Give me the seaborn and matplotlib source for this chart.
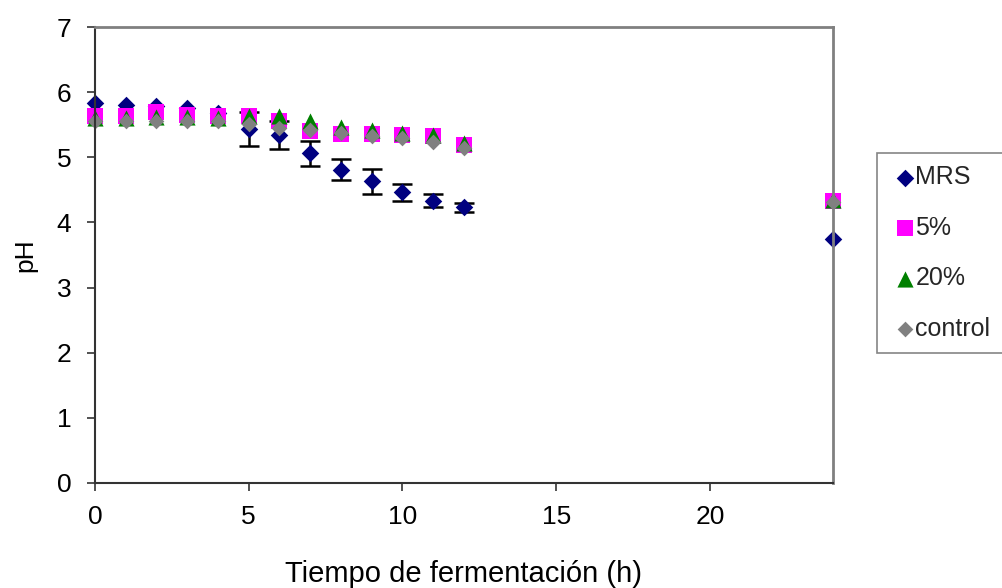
import numpy as np
import pandas as pd
import matplotlib
matplotlib.use("Agg")
import matplotlib.pyplot as plt
import seaborn as sns

time = [0, 1, 2, 3, 4, 5, 6, 7, 8, 9, 10, 11, 12, 24]
ph_mrs = [5.84, 5.81, 5.79, 5.76, 5.68, 5.43, 5.34, 5.06, 4.81, 4.63, 4.46, 4.33, 4.23, 3.75]
sd_mrs = [np.nan, np.nan, np.nan, np.nan, np.nan, 0.26, 0.22, 0.19, 0.16, 0.19, 0.13, 0.10, 0.07, np.nan]
ph_5 = [5.63, 5.63, 5.70, 5.65, 5.64, 5.64, 5.56, 5.41, 5.36, 5.36, 5.35, 5.32, 5.19, 4.33]
ph_20 = [5.60, 5.60, 5.62, 5.62, 5.60, 5.63, 5.63, 5.55, 5.47, 5.42, 5.38, 5.35, 5.22, 4.35]
ph_ctrl = [5.55, 5.55, 5.55, 5.55, 5.55, 5.51, 5.45, 5.42, 5.38, 5.33, 5.30, 5.24, 5.15, 4.32]

series = ["MRS", "5%", "20%", "control"]
values = [ph_mrs, ph_5, ph_20, ph_ctrl]
colors = {"MRS": "#000080", "5%": "#FF00FF", "20%": "#008000", "control": "#808080"}
markers = {"MRS": "D", "5%": "s", "20%": "^", "control": "D"}
sizes = {"MRS": 80, "5%": 125, "20%": 135, "control": 64}

df = pd.concat([pd.DataFrame({"t": time, "pH": v, "serie": s}) for s, v in zip(series, values)],
               ignore_index=True)

sns.set_theme(style="white")
plt.rcParams["font.family"] = ["Liberation Sans", "DejaVu Sans"]

fig = plt.figure(figsize=(10.03, 5.88), dpi=100)
ax = fig.add_axes([0.0947, 0.1786, 0.7358, 0.7754])

ax.errorbar(time, ph_mrs, yerr=sd_mrs, fmt="none", ecolor="black", elinewidth=1.8,
            capsize=7, capthick=1.8, zorder=1, clip_on=False)

for s in series:
    sub = df[df["serie"] == s]
    sns.scatterplot(data=sub, x="t", y="pH", marker=markers[s], color=colors[s],
                    s=sizes[s], linewidth=0, ax=ax, label=s, zorder=2, clip_on=False)

ax.set_xlim(0, 24)
ax.set_ylim(0, 7)
ax.set_xticks([0, 5, 10, 15, 20])
ax.set_yticks(range(0, 8))
ax.tick_params(axis="both", which="major", labelsize=19, direction="out", length=6,
               width=1.2, color="#333333", labelcolor="black", bottom=True, left=True)
ax.tick_params(axis="y", pad=11)
ax.tick_params(axis="x", pad=10)
ax.set_xlabel("Tiempo de fermentación (h)", fontsize=21, labelpad=22, color="black")
ax.set_ylabel("pH", fontsize=19, labelpad=14, color="black")

for side in ["left", "bottom"]:
    ax.spines[side].set_color("#333333")
    ax.spines[side].set_linewidth(1.5)
for side in ["top", "right"]:
    ax.spines[side].set_color("#808080")
    ax.spines[side].set_linewidth(2)
ax.grid(False)

if ax.legend_:
    ax.legend_.remove()
handles, labels = ax.get_legend_handles_labels()
leg = fig.legend(handles, labels, loc="upper left", bbox_to_anchor=(0.874, 0.740),
                 fontsize=18, frameon=True, fancybox=False, edgecolor="#666666",
                 handletextpad=-0.2, labelspacing=1.06, borderpad=0.5, handlelength=1.25,
                 borderaxespad=0)
leg.get_frame().set_linewidth(1.2)

fig.savefig("out.png", dpi=100)
